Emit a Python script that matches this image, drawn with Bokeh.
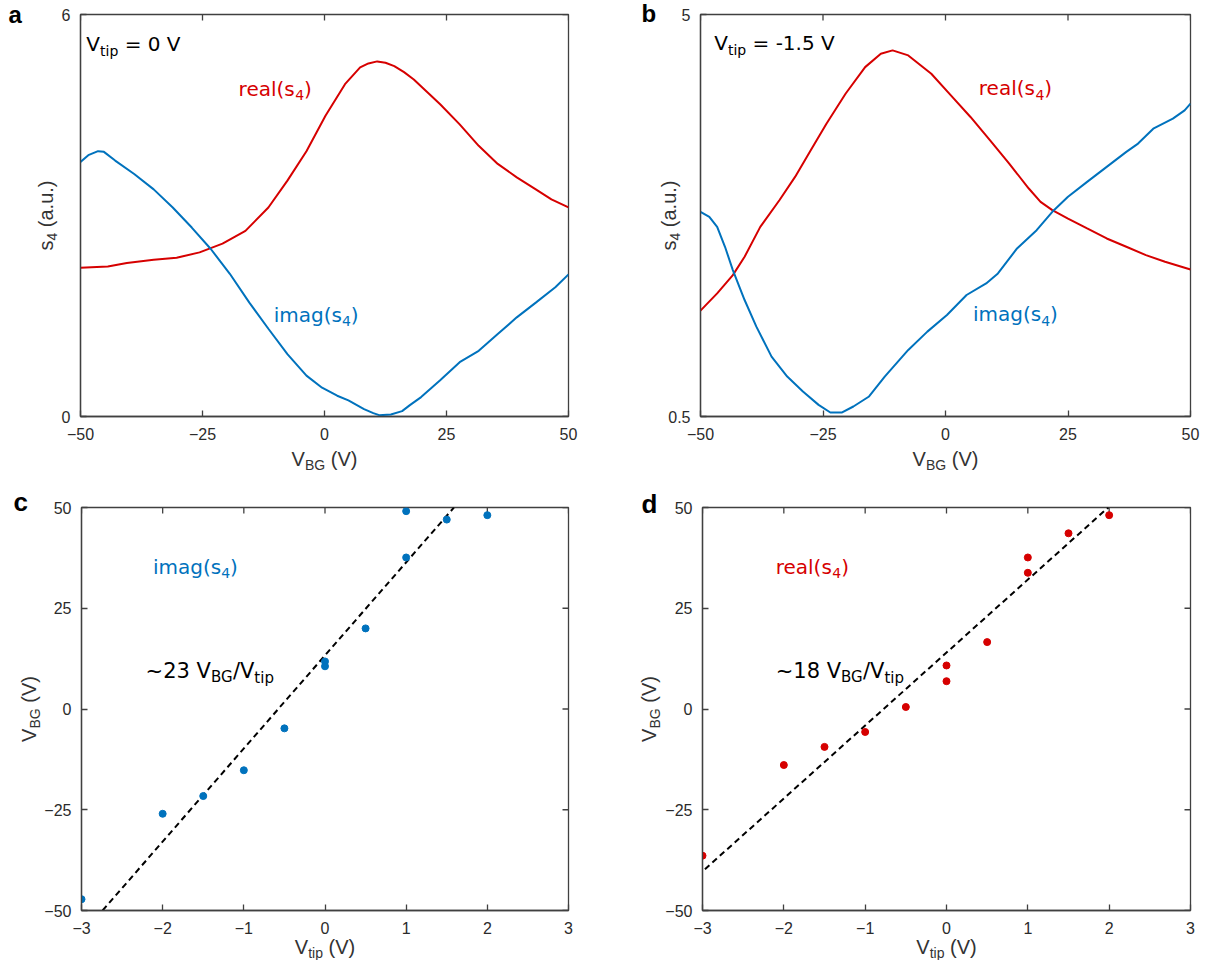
import math
from bokeh.plotting import figure
from bokeh.models import Range1d, FixedTicker
from bokeh.core.properties import value
from bokeh.layouts import column, row
from bokeh.embed import file_html
from bokeh.resources import INLINE

# ---------------- data ----------------
# panel a : V_tip = 0 V
a_real_vbg = [-50, -44.4, -40.5, -35, -30.3, -25.6, -20.9, -16.2, -11.5, -7.6, -3.7, 0.2, 4.2, 7.3, 9.0,
              10.8, 12.5, 14.3, 16.3, 18.3, 23.7, 27.7, 31.6, 35.5, 39.4, 43.3, 46.5, 50]
a_real_s4 = [2.22, 2.24, 2.29, 2.34, 2.37, 2.45, 2.58, 2.77, 3.12, 3.52, 3.96, 4.49, 4.96, 5.21, 5.27,
             5.30, 5.28, 5.23, 5.14, 5.03, 4.66, 4.36, 4.04, 3.77, 3.57, 3.39, 3.24, 3.12]
a_imag_vbg = [-50, -48.4, -46.4, -45.2, -42.9, -39, -35, -31.1, -27.2, -23.3, -19.4, -15.4, -11.5, -7.6,
              -3.7, -0.5, 2.6, 4.9, 8.1, 10.0, 11.2, 13.6, 15.9, 17.5, 19.8, 23.7, 27.7, 31.6, 35.5,
              39.4, 43.3, 47.3, 50]
a_imag_s4 = [3.80, 3.90, 3.96, 3.95, 3.82, 3.62, 3.39, 3.12, 2.82, 2.50, 2.13, 1.70, 1.31, 0.93,
             0.61, 0.43, 0.31, 0.24, 0.11, 0.05, 0.02, 0.03, 0.08, 0.17, 0.29, 0.54, 0.81, 0.98, 1.23,
             1.48, 1.70, 1.93, 2.12]

# panel b : V_tip = -1.5 V
b_real_vbg = [-50, -46.6, -43.4, -41, -37.8, -33.9, -30.7, -27.5, -24.3, -20.4, -16.4, -13.2, -10.8,
              -7.6, -2.9, 1.1, 5.1, 9.1, 13.0, 17.0, 19.4, 21.8, 25.0, 28.9, 32.9, 36.9, 40.9, 44.8, 50]
b_real_s4 = [1.685, 1.878, 2.083, 2.288, 2.623, 2.921, 3.182, 3.48, 3.778, 4.113, 4.411, 4.56, 4.598,
             4.542, 4.337, 4.095, 3.853, 3.592, 3.331, 3.052, 2.903, 2.81, 2.716, 2.605, 2.493, 2.40,
             2.307, 2.232, 2.146]
b_imag_vbg = [-50, -48.2, -46.6, -45, -43.4, -41, -38.6, -35.5, -32.3, -29.1, -25.9, -23.5, -21.1,
              -18.8, -15.6, -12.4, -7.6, -3.7, 0.3, 4.3, 8.3, 10.7, 14.6, 18.6, 21.8, 25.0, 28.9,
              32.9, 36.9, 39.3, 42.4, 46.4, 48.8, 50]
b_imag_s4 = [2.791, 2.735, 2.623, 2.40, 2.139, 1.804, 1.506, 1.17, 0.947, 0.779, 0.63, 0.545, 0.545,
             0.612, 0.724, 0.947, 1.245, 1.45, 1.636, 1.86, 1.99, 2.102, 2.381, 2.586, 2.791, 2.959,
             3.126, 3.294, 3.462, 3.555, 3.722, 3.834, 3.927, 4.002]

# panel c : imag(s4) peak positions
c_vtip = [-3, -2, -1.5, -1, -0.5, 0, 0, 0.5, 1, 1, 1.5, 2]
c_vbg = [-47.2, -26.0, -21.6, -15.2, -4.8, 11.8, 10.6, 20.0, 37.6, 49.1, 47.0, 48.1]
c_fit_slope = 23.1
c_fit_intercept = 13.3
c_fit_vtip = [-2.74, 1.59]

# panel d : real(s4) peak positions
d_vtip = [-3, -2, -1.5, -1, -0.5, 0, 0, 0.5, 1, 1, 1.5, 2]
d_vbg = [-36.4, -13.9, -9.4, -5.7, 0.5, 10.8, 6.9, 16.6, 37.6, 33.8, 43.6, 48.1]
d_fit_slope = 18.1
d_fit_intercept = 14.0
d_fit_vtip = [-2.97, 1.99]

vbg_ticks = [-50, -25, 0, 25, 50]
vtip_ticks = [-3, -2, -1, 0, 1, 2, 3]
a_s4_ticks = [0, 6]
b_s4_ticks = [0.5, 5]

# ---------------- style ----------------
BLUE = "#0072BD"
RED = "#D60000"
FRAME = "#404040"
TICKTXT = "#2b2b2b"
TITLETXT = "#333333"
SANS = "Liberation Sans"
DV = "DejaVu Sans"
NB = "\u00a0"
BASE_K = 0.375   # text-glyph baseline correction (fraction of font size)

DV_W = {' ': .318, NB: .318, '(': .390, ')': .390, '-': .361, '.': .318, '/': .337, '=': .838,
        '~': .838, 'V': .684, 'B': .686, 'G': .775, 'a': .613, 'e': .615, 'g': .635, 'i': .278,
        'l': .278, 'm': .974, 'p': .635, 'r': .411, 's': .521, 't': .392, 'u': .634}
LS_W = {' ': .278, NB: .278, '(': .333, ')': .333, '.': .278, '/': .278, '-': .333, 'V': .667,
        'B': .667, 'G': .778, 'a': .556, 'i': .222, 'p': .556, 's': .5, 't': .278, 'u': .556}


def tw(text, font, size):
    table = DV_W if font == DV else LS_W
    w = 0.0
    for ch in text:
        if ch.isdigit():
            w += .636 if font == DV else .556
        else:
            w += table.get(ch, 0.6)
    return w * size


def put_text(p, x, y, t, font, size, color, dx, up, angle=0.0, style="normal"):
    # glyph offsets are screen pixels (y downwards); drawn at overlay level so text
    # outside the frame (axis titles, panel letters) is not clipped
    if angle == 0.0:
        up = up + BASE_K * size
    else:
        dx = dx - BASE_K * size
    p.text(x=[x], y=[y], text=[t], x_offset=dx, y_offset=-up, angle=angle,
           text_font=value(font), text_font_size=value(f"{size}px"),
           text_font_style=value(style), text_color=color,
           text_align=value("left"), text_baseline=value("alphabetic"), level="overlay")


def rich(p, x, y, segs, font, color, dx=0.0, up=0.0, center=False, rotate=False):
    """segs: list of (text, size, down_shift)."""
    total = sum(tw(t, font, s) for t, s, _ in segs)
    cur = -total / 2 if center else 0.0
    for t, s, sh in segs:
        if rotate:
            put_text(p, x, y, t, font, s, color, dx + sh, up + cur, angle=math.pi / 2)
        else:
            put_text(p, x, y, t, font, s, color, dx + cur, up - sh)
        cur += tw(t, font, s)


def style_axis(ax, ticks, standoff):
    ax.ticker = FixedTicker(ticks=ticks)
    ax.major_tick_in = 6
    ax.major_tick_out = 0
    ax.minor_tick_in = 0
    ax.minor_tick_out = 0
    ax.axis_line_color = FRAME
    ax.axis_line_width = 1.3
    ax.major_tick_line_color = FRAME
    ax.major_tick_line_width = 1.3
    ax.axis_label = None
    ax.major_label_text_font = SANS
    ax.major_label_text_font_size = "16px"
    ax.major_label_text_color = TICKTXT
    ax.major_label_standoff = standoff


def panel(width, height, borders, xr, yr, xticks, yticks):
    l, r, t, b = borders
    p = figure(width=width, height=height, x_range=Range1d(*xr), y_range=Range1d(*yr),
               output_backend="svg", toolbar_location=None,
               min_border_left=l, min_border_right=r, min_border_top=t, min_border_bottom=b)
    p.grid.visible = False
    p.outline_line_color = FRAME
    p.outline_line_width = 1.3
    p.background_fill_color = "white"
    p.border_fill_color = "white"
    style_axis(p.xaxis[0], xticks, 11)
    style_axis(p.yaxis[0], yticks, 10)
    # inward ticks on the top and right edges of the box
    p.ray(x=xticks, y=[yr[1]] * len(xticks), length=6, length_units="screen", angle=-math.pi / 2,
          line_color=FRAME, line_width=1.3)
    p.ray(x=[xr[1]] * len(yticks), y=yticks, length=6, length_units="screen", angle=math.pi,
          line_color=FRAME, line_width=1.3)
    return p


def letter(p, x, y, ch, dx, up, size=26):
    put_text(p, x, y, ch, SANS, size, "black", dx, up, style="bold")


def sub_label(name):
    return [(name + "(s", 20, 0), ("4", 14, 4), (")", 20, 0)]


# ---------------- panel a ----------------
pa = panel(630, 478, (80, 62, 13, 62), (-50, 50), (0, 6), vbg_ticks, a_s4_ticks)
pa.line(a_real_vbg, a_real_s4, line_color=RED, line_width=2)
pa.line(a_imag_vbg, a_imag_s4, line_color=BLUE, line_width=2)
letter(pa, -50, 6, "a", -72, -9, size=24)
rich(pa, -48.8, 5.45, [("V", 20, 0), ("tip", 14, 5), (NB + "=" + NB + "0" + NB + "V", 20, 0)], DV, "black")
rich(pa, -17.6, 4.78, sub_label("real"), DV, RED)
rich(pa, -10.4, 1.40, sub_label("imag"), DV, BLUE)
rich(pa, 0, 0, [("V", 20, 0), ("BG", 14, 4), (NB + "(V)", 20, 0)], SANS, TITLETXT, up=-50, center=True)
rich(pa, -50, 3, [("s", 20, 0), ("4", 14, 4), (NB + "(a.u.)", 20, 0)], SANS, TITLETXT, dx=-27,
     center=True, rotate=True)

# ---------------- panel b ----------------
pb = panel(570, 478, (70, 10, 14, 61), (-50, 50), (0.5, 5), vbg_ticks, b_s4_ticks)
pb.yaxis[0].major_label_overrides = {0.5: "0.5", 5: "5"}
pb.line(b_real_vbg, b_real_s4, line_color=RED, line_width=2)
pb.line(b_imag_vbg, b_imag_s4, line_color=BLUE, line_width=2)
letter(pb, -50, 5, "b", -59, -8, size=24)
rich(pb, -47.2, 4.60, [("V", 20, 0), ("tip", 14, 5), (NB + "=" + NB + "-1.5" + NB + "V", 20, 0)], DV, "black")
rich(pb, 6.8, 4.09, sub_label("real"), DV, RED)
rich(pb, 5.6, 1.56, sub_label("imag"), DV, BLUE)
rich(pb, 0, 0.5, [("V", 20, 0), ("BG", 14, 4), (NB + "(V)", 20, 0)], SANS, TITLETXT, up=-50, center=True)
rich(pb, -50, 2.75, [("s", 20, 0), ("4", 14, 4), (NB + "(a.u.)", 20, 0)], SANS, TITLETXT, dx=-24,
     center=True, rotate=True)

# ---------------- panel c ----------------
pc = panel(630, 482, (81, 62, 29, 50), (-3, 3), (-50, 50), vtip_ticks, vbg_ticks)
pc.line(c_fit_vtip, [c_fit_slope * v + c_fit_intercept for v in c_fit_vtip],
        line_color="black", line_width=2, line_dash="6 4")
pc.scatter(c_vtip, c_vbg, size=7, fill_color=BLUE, line_color=BLUE)
letter(pc, -3, 50, "c", -68, -4)
rich(pc, -2.12, 33.4, sub_label("imag"), DV, BLUE)
rich(pc, -2.21, 7.5, [("~23" + NB + "V", 21, 0), ("BG", 15, 4), ("/V", 21, 0), ("tip", 15, 5)], DV, "black")
rich(pc, 0, -50, [("V", 20, 0), ("tip", 14, 4), (NB + "(V)", 20, 0)], SANS, TITLETXT, up=-44, center=True)
rich(pc, -3, 0, [("V", 20, 0), ("BG", 14, 4), (NB + "(V)", 20, 0)], SANS, TITLETXT, dx=-45,
     center=True, rotate=True)

# ---------------- panel d ----------------
pd_ = panel(570, 482, (72, 10, 29, 50), (-3, 3), (-50, 50), vtip_ticks, vbg_ticks)
pd_.line(d_fit_vtip, [d_fit_slope * v + d_fit_intercept for v in d_fit_vtip],
         line_color="black", line_width=2, line_dash="6 4")
pd_.scatter(d_vtip, d_vbg, size=7, fill_color=RED, line_color=RED)
letter(pd_, -3, 50, "d", -61, -6)
rich(pd_, -2.1, 33.4, sub_label("real"), DV, RED)
rich(pd_, -2.1, 7.5, [("~18" + NB + "V", 21, 0), ("BG", 15, 4), ("/V", 21, 0), ("tip", 15, 5)], DV, "black")
rich(pd_, 0, -50, [("V", 20, 0), ("tip", 14, 4), (NB + "(V)", 20, 0)], SANS, TITLETXT, up=-44, center=True)
rich(pd_, -3, 0, [("V", 20, 0), ("BG", 14, 4), (NB + "(V)", 20, 0)], SANS, TITLETXT, dx=-46,
     center=True, rotate=True)

layout = column(row(pa, pb), row(pc, pd_))
open("out.html", "w").write(file_html(layout, INLINE))
